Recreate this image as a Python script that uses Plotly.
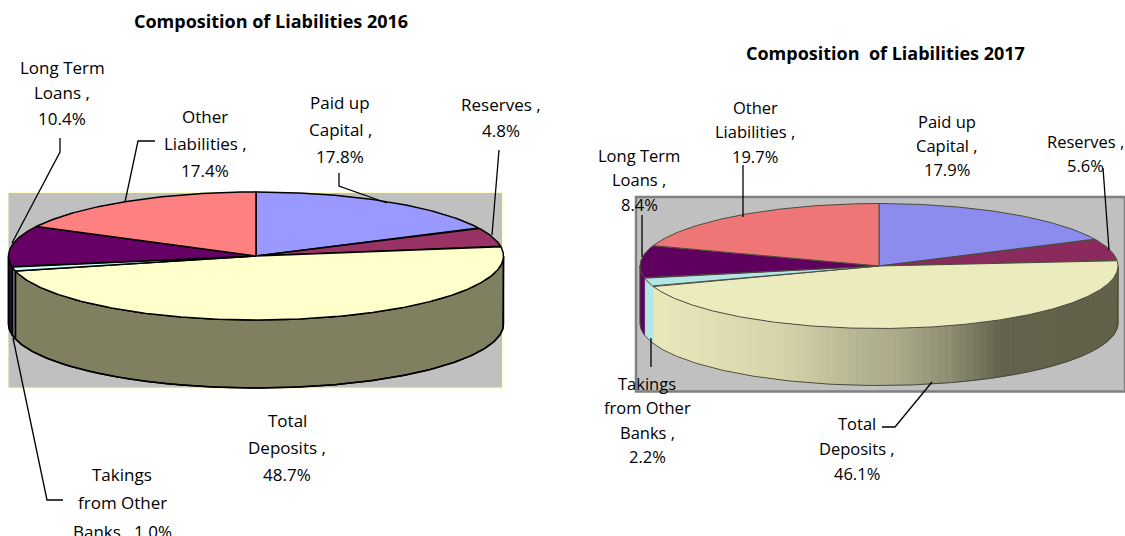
import numpy as np
import plotly.graph_objects as go

# ---------- data ----------
categories = ["Paid up Capital", "Reserves", "Total Deposits",
              "Takings from Other Banks", "Long Term Loans", "Other Liabilities"]
values_2016 = [17.8, 4.8, 48.7, 1.0, 10.4, 17.4]
values_2017 = [17.9, 5.6, 46.1, 2.2, 8.4, 19.7]
title_2016 = "Composition of Liabilities 2016"
title_2017 = "Composition  of Liabilities 2017"

colors_2016 = ["#9999FF", "#993366", "#FFFFCC", "#CCFFFF", "#660066", "#FF8080"]
walls_2016 = ["#4D4D80", "#4D1A33", "#808060", "#5A6A6A", "#2C0A38", "#804040"]
colors_2017 = ["#8C8CEE", "#8B2A5C", "#ECEBBD", "#B5E6E6", "#5F005F", "#EF7676"]
walls_2017 = ["#4D4D80", "#4D1A33", None, "#B5E6E6", "#5F005F", "#804040"]
gradient_x = [650, 700, 780, 860, 900, 950, 1000, 1120]
gradient_rgb = [(234, 233, 188), (227, 226, 182), (213, 212, 170), (182, 181, 146),
                (170, 169, 138), (142, 141, 114), (100, 100, 78), (98, 98, 74)]

# (text lines, centre x, first-line y, line step) for each data label
labels_2016 = [
    (["Long Term", "Loans ,", "10.4%"], 62, 67, 25.5),
    (["Other", "Liabilities ,", "17.4%"], 205, 116, 27),
    (["Paid up", "Capital ,", "17.8%"], 340, 102, 27),
    (["Reserves ,", "4.8%"], 501, 104, 26),
    (["Total", "Deposits ,", "48.7%"], 287, 420, 27),
    (["Takings", "from Other", "Banks , 1.0%"], 122, 474, 28.5),
]
labels_2017 = [
    (["Other", "Liabilities ,", "19.7%"], 755, 107, 24.5),
    (["Paid up", "Capital ,", "17.9%"], 947, 121, 24),
    (["Reserves ,", "5.6%"], 1085, 141, 24),
    (["Long Term", "Loans ,", "8.4%"], 639, 155, 24.5),
    (["Takings", "from Other", "Banks ,", "2.2%"], 647, 383, 24.5),
    (["Total", "Deposits ,", "46.1%"], 857, 423, 25),
]
leaders = [
    ([60, 60, 12], [138, 152, 243]),
    ([155, 138, 125], [141, 141, 202]),
    ([339, 339, 387], [173, 186, 203]),
    ([499, 492], [150, 235]),
    ([13, 47, 63], [338, 500, 500]),
    ([743, 743], [165, 217]),
    ([642, 642], [215, 257]),
    ([651, 651], [338, 367]),
    ([1103, 1109], [168, 250]),
    ([932, 895, 882], [382, 427, 427]),
]

FONT = "Open Sans"
fig = go.Figure()


def poly(xs, ys, fill, line=None, width=1.0):
    fig.add_trace(go.Scatter(
        x=list(xs), y=list(ys), mode="lines", fill="toself", fillcolor=fill,
        line=dict(color=line or fill, width=width), hoverinfo="skip", showlegend=False))


def px(a, cx, rx):
    return cx + rx * np.sin(np.radians(a))


def py(a, cy, ry):
    return cy - ry * np.cos(np.radians(a))


def wall(a0, a1, cx, cy, rx, ry, d):
    t = np.linspace(a0, a1, max(int(abs(a1 - a0)), 2) * 2)
    xs = np.concatenate([px(t, cx, rx), px(t[::-1], cx, rx)])
    ys = np.concatenate([py(t, cy, ry), py(t[::-1], cy, ry) + d])
    return np.append(xs, xs[0]), np.append(ys, ys[0])


def grad(x):
    rgb = [int(np.interp(x, gradient_x, [c[i] for c in gradient_rgb])) for i in range(3)]
    return "rgb(%d,%d,%d)" % tuple(rgb)


def pie(values, colors, walls, cx, cy, rx, ry, d, edge, width, gradient):
    total = sum(values)
    edges = np.concatenate([[0], np.cumsum(values)]) / total * 360
    # side wall, front half only
    for i in range(len(values)):
        a0, a1 = max(edges[i], 90), min(edges[i + 1], 270)
        if a1 <= a0:
            continue
        if walls[i] is None and gradient:
            steps = np.linspace(a0, a1, 90)
            for s0, s1 in zip(steps[:-1], steps[1:]):
                xs, ys = wall(s0, s1, cx, cy, rx, ry, d)
                poly(xs, ys, grad(px((s0 + s1) / 2, cx, rx)), width=1.0)
        else:
            xs, ys = wall(a0, a1, cx, cy, rx, ry, d)
            poly(xs, ys, walls[i], edge if not gradient else None, width if not gradient else 0.5)
    # wall outline
    t = np.linspace(90, 270, 200)
    fig.add_trace(go.Scatter(
        x=np.concatenate([[px(90, cx, rx)], px(t, cx, rx), [px(270, cx, rx)]]),
        y=np.concatenate([[py(90, cy, ry)], py(t, cy, ry) + d, [py(270, cy, ry)]]),
        mode="lines", line=dict(color=edge, width=width), hoverinfo="skip", showlegend=False))
    # top faces
    for i in range(len(values)):
        t = np.linspace(edges[i], edges[i + 1], max(int(edges[i + 1] - edges[i]), 2) * 2)
        xs = np.concatenate([[cx], px(t, cx, rx), [cx]])
        ys = np.concatenate([[cy], py(t, cy, ry), [cy]])
        poly(xs, ys, colors[i], edge, width)


# panels
fig.add_shape(type="rect", x0=8, x1=502.5, y0=192.5, y1=388, layer="below",
              fillcolor="#C0C0C0", line=dict(color="#FFFFCC", width=1))
fig.add_shape(type="rect", x0=636, x1=1125, y0=197, y1=391.5, layer="below",
              fillcolor="#C0C0C0", line=dict(color="#808080", width=2.5))

pie(values_2016, colors_2016, walls_2016, 256, 256, 247.5, 64, 68, "#000000", 1.5, False)
pie(values_2017, colors_2017, walls_2017, 879, 266, 239, 62.5, 57, "#4A4A40", 1.0, True)

for xs, ys in leaders:
    fig.add_trace(go.Scatter(x=xs, y=ys, mode="lines", line=dict(color="#000000", width=1.3),
                             hoverinfo="skip", showlegend=False))


def text(s, x, y, size, bold=False):
    fig.add_annotation(x=x, y=y, text="<b>%s</b>" % s if bold else s, showarrow=False,
                       xanchor="center", yanchor="middle", xref="x", yref="y",
                       font=dict(family=FONT, size=size, color="#000000"))


text(title_2016, 271, 21, 18, True)
text(title_2017, 885, 53, 18, True)
for lines, x, y, step in labels_2016:
    for k, s in enumerate(lines):
        text(s, x, y + k * step, 17)
for lines, x, y, step in labels_2017:
    for k, s in enumerate(lines):
        text(s, x, y + k * step, 16.5)

fig.update_layout(
    width=1125, height=536, margin=dict(l=0, r=0, t=0, b=0),
    paper_bgcolor="#FFFFFF", plot_bgcolor="#FFFFFF", showlegend=False,
    xaxis=dict(range=[0, 1125], visible=False, fixedrange=True),
    yaxis=dict(range=[536, 0], visible=False, fixedrange=True),
)
fig.write_html("out.html", config={"displayModeBar": False},
               post_script="document.body.style.margin='0';document.body.style.overflow='hidden';")
